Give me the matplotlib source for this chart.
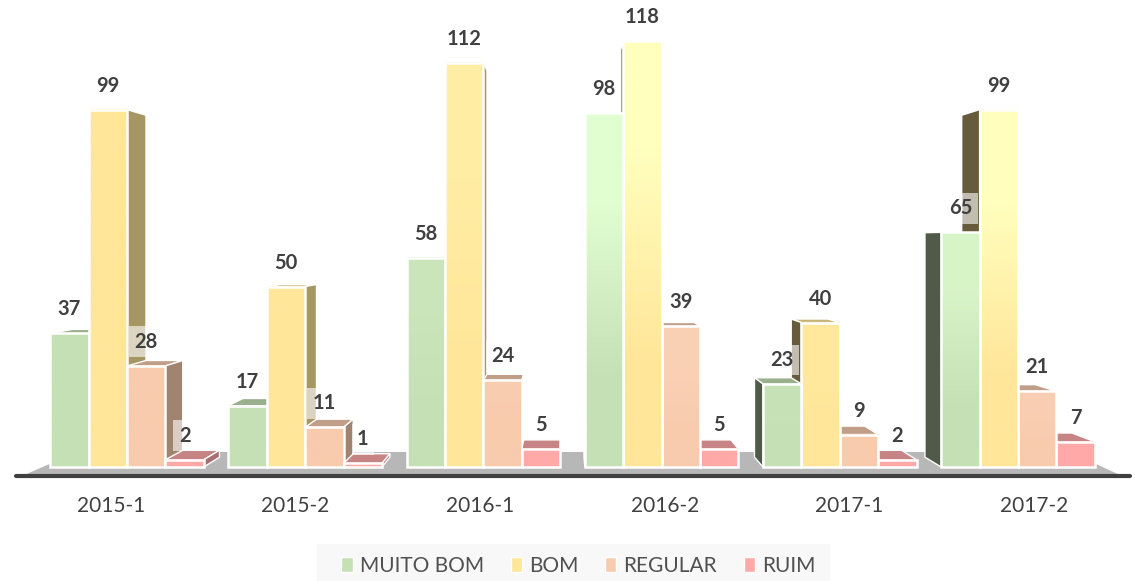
import matplotlib
matplotlib.use("Agg")
import matplotlib.pyplot as plt
import numpy as np
from matplotlib.patches import Polygon, Patch, Rectangle
from matplotlib.colors import to_rgb

categories = ["2015-1", "2015-2", "2016-1", "2016-2", "2017-1", "2017-2"]
series_names = ["MUITO BOM", "BOM", "REGULAR", "RUIM"]
muito_bom = [37, 17, 58, 98, 23, 65]
bom = [99, 50, 112, 118, 40, 99]
regular = [28, 11, 24, 39, 9, 21]
ruim = [2, 1, 5, 5, 2, 7]

colors = ["#C5E0B4", "#FFE699", "#F8CBAD", "#FFA9A9"]
light = ["#E2FFD2", "#FFFFBE", "#FFD9C2", "#FFA9A9"]
shine = [0, 0, 0.3, 1, 0.25, 1]

plt.rcParams["font.family"] = ["Lato", "DejaVu Sans"]
W, H = 1135, 581
fig = plt.figure(figsize=(W / 100, H / 100), dpi=100, facecolor="white")
ax = fig.add_axes([0, 0, 1, 1])
ax.axis("off")

PXX, PXY = 178.2, 3.61
X0, Y0 = 127.0, 467
xlim = (-X0 / PXX, (W - X0) / PXX)
ylim = ((Y0 - H) / PXY, Y0 / PXY)

VX = (566 - X0) / PXX
VY = (Y0 - 240) / PXY
K = 0.0433
BW = 38.4 / PXX


def back(x, y):
    return x + K * (VX - x), y + K * (VY - y)


def shade(c, f):
    return tuple(v * f for v in to_rgb(c))


# floor
fd = -9 / PXY
fl = (22 - X0) / PXX
fr = (1122 - X0) / PXX
blx, bly = (77 - X0) / PXX, (Y0 - 452) / PXY
brx, bry = (1070 - X0) / PXX, (Y0 - 452) / PXY
ax.add_patch(Polygon([(fl, fd), (fr, fd), (brx, bry), (blx, bry)],
                     closed=True, fc="#B7B7B7", ec="none", zorder=1))
ax.plot([(16 - X0) / PXX, (1130 - X0) / PXX], [fd, fd], color="#404040", lw=3,
        solid_capstyle="round", zorder=2)

values = [muito_bom, bom, regular, ruim]
bars = []
for g in range(len(categories)):
    for s in range(len(series_names)):
        x0 = g + (s - 2) * BW
        bars.append((g, s, x0, x0 + BW, values[s][g]))
bars.sort(key=lambda b: -abs((b[2] + b[3]) / 2 - VX))

z = 3
for g, s, x0, x1, v in bars:
    c = colors[s]
    if v < VY:
        pts = [(x0, v), (x1, v), back(x1, v), back(x0, v)]
        ax.add_patch(Polygon(pts, closed=True, fc=shade(c, 0.78), ec="white", lw=1, zorder=z))
    if x1 < VX:
        pts = [(x1, 0), (x1, v), back(x1, v), back(x1, 0)]
        ax.add_patch(Polygon(pts, closed=True, fc=shade(c, 0.65), ec="white", lw=1, zorder=z))
    elif x0 > VX:
        pts = [(x0, 0), (x0, v), back(x0, v), back(x0, 0)]
        ax.add_patch(Polygon(pts, closed=True, fc=shade(c, 0.40), ec="white", lw=1, zorder=z))
    z += 1
    mix = shine[g] * min(1.0, v / 100)
    top = np.array(to_rgb(c)) * (1 - mix) + np.array(to_rgb(light[s])) * mix
    grad = np.array([[to_rgb(c)], [top]])
    ax.imshow(grad, origin="lower", extent=(x0, x1, 0, v), aspect="auto",
              interpolation="bilinear", zorder=z)
    z += 1
    ax.bar(x0, v, width=BW, align="edge", fc="none", ec="white", lw=1.8, zorder=z)
    z += 1

for g, s, x0, x1, v in bars:
    ax.text((x0 + x1) / 2, v + 24 / PXY, str(v), ha="center", va="center",
            fontsize=14.5, fontweight="bold", color="#404040", zorder=z + 1,
            bbox=dict(boxstyle="square,pad=0.27", fc="white", ec="none", alpha=0.6))

for i, name in enumerate(categories):
    ax.text((i - 2.5) * 1.0365 + 2.5, -39 / PXY, name, ha="center", va="center",
            fontsize=15, color="#404040", zorder=z + 1)

ax.add_patch(Rectangle(((317 - X0) / PXX, ylim[0]), 513 / PXX, 37 / PXY,
                       fc="#F8F8F8", ec="none", zorder=z + 1))
handles = [Patch(fc=c, ec="white", lw=1) for c in colors]
leg = ax.legend(handles, series_names, ncol=4, loc="center",
                bbox_to_anchor=(578.5 / W, (H - 566) / H), frameon=False,
                fontsize=15, labelcolor="#505050", handlelength=0.55,
                handleheight=0.75, handletextpad=0.34, columnspacing=1.27,
                borderpad=0, borderaxespad=0)
leg.set_zorder(z + 2)

ax.set_xlim(*xlim)
ax.set_ylim(*ylim)
fig.savefig("out.png", dpi=100, facecolor="white")
